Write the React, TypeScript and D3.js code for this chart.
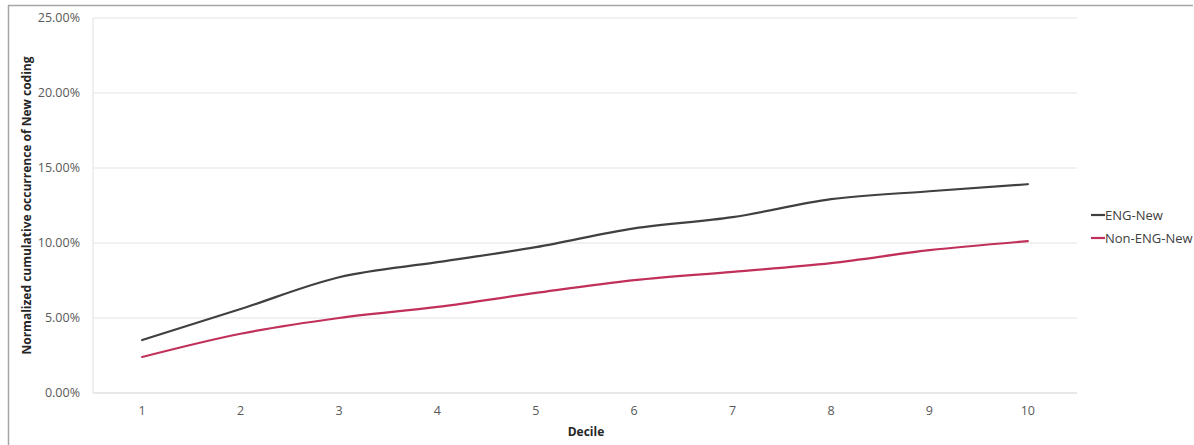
import React from "react";
import * as d3 from "d3";

const deciles = ["1", "2", "3", "4", "5", "6", "7", "8", "9", "10"];
const engNew = [3.53, 5.6, 7.72, 8.72, 9.72, 10.98, 11.72, 12.92, 13.45, 13.92];
const nonEngNew = [2.4, 3.95, 5.0, 5.74, 6.67, 7.52, 8.08, 8.66, 9.52, 10.12];
const yTicks = [0, 5, 10, 15, 20, 25];
const seriesNames = ["ENG-New", "Non-ENG-New"];
const seriesColors = ["#404040", "#c0305a"];

const W = 1194;
const H = 445;
const plot = { left: 93, right: 1077, top: 18, bottom: 393 };
const font = "'Open Sans', 'Noto Sans', sans-serif";

export default function App() {
  const x = d3
    .scaleBand<string>()
    .domain(deciles)
    .range([plot.left, plot.right]);
  const y = d3.scaleLinear().domain([0, 25]).range([plot.bottom, plot.top]);
  const cx = (d: string) => (x(d) ?? 0) + x.bandwidth() / 2;

  const line = d3
    .line<number>()
    .x((_, i) => cx(deciles[i]))
    .y((v) => y(v))
    .curve(d3.curveMonotoneX);

  const series = [engNew, nonEngNew];

  return (
    <svg
      width={W}
      height={H}
      style={{ position: "absolute", left: 0, top: 0, background: "#fff" }}
      fontFamily={font}
    >
      {/* chart frame */}
      <line x1={8} x2={1193} y1={5.5} y2={5.5} stroke="#a6a6a6" strokeWidth={1.5} />
      <line x1={8.5} x2={8.5} y1={5} y2={H} stroke="#a6a6a6" strokeWidth={1.5} />

      {/* gridlines */}
      {yTicks.map((t) => (
        <line
          key={t}
          x1={plot.left}
          x2={plot.right}
          y1={y(t)}
          y2={y(t)}
          stroke={t === 0 ? "#d0d0d0" : "#e3e3e3"}
          strokeWidth={1}
        />
      ))}
      <line
        x1={plot.left}
        x2={plot.left}
        y1={plot.top}
        y2={plot.bottom}
        stroke="#e0e0e0"
      />

      {/* y tick labels */}
      {yTicks.map((t) => (
        <text
          key={t}
          x={80}
          y={y(t)}
          dy="0.35em"
          textAnchor="end"
          fontSize={12.5}
          fill="#595959"
        >
          {d3.format(".2f")(t) + "%"}
        </text>
      ))}

      {/* x tick labels */}
      {deciles.map((d) => (
        <text
          key={d}
          x={cx(d)}
          y={411}
          dy="0.35em"
          textAnchor="middle"
          fontSize={12.5}
          fill="#595959"
        >
          {d}
        </text>
      ))}

      {/* axis titles */}
      <text
        x={586}
        y={432}
        dy="0.35em"
        textAnchor="middle"
        fontSize={12}
        fontWeight="bold"
        fill="#262626"
      >
        Decile
      </text>
      <text
        transform={`translate(27, ${(plot.top + plot.bottom) / 2}) rotate(-90)`}
        textAnchor="middle"
        dy="0.35em"
        fontSize={12}
        fontWeight="bold"
        fill="#262626"
      >
        Normalized cumulative occurrence of New coding
      </text>

      {/* series lines */}
      {series.map((vals, i) => (
        <path
          key={seriesNames[i]}
          d={line(vals) ?? ""}
          fill="none"
          stroke={seriesColors[i]}
          strokeWidth={2.2}
          strokeLinecap="round"
        />
      ))}

      {/* legend */}
      {seriesNames.map((name, i) => (
        <g key={name} transform={`translate(1091, ${215 + i * 23})`}>
          <line x1={0} x2={14} y1={0} y2={0} stroke={seriesColors[i]} strokeWidth={2.2} />
          <text x={14} y={0} dy="0.35em" fontSize={13} fill="#404040">
            {name}
          </text>
        </g>
      ))}
    </svg>
  );
}
